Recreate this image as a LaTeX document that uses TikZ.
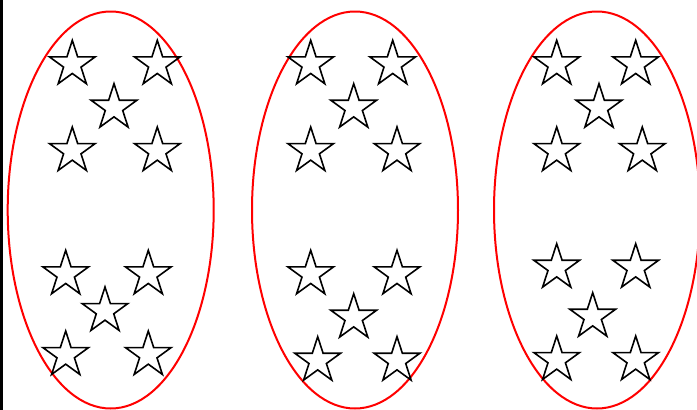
\documentclass[tikz,border=0pt]{standalone}
\usetikzlibrary{shapes.geometric}
\begin{document}
\begin{tikzpicture}[x=1pt,y=-1pt,
  starshape/.style={star,star points=5,star point ratio=2.618,minimum size=48pt,inner sep=0pt,draw=black,line width=1.6pt},
  group/.style={draw=red,line width=2pt}]
\useasboundingbox (0,0) rectangle (697,410);
\fill[black] (0,0) rectangle (3,410);
% ellipses
\draw[group] (110.7,210) ellipse [x radius=103,y radius=198.5];
\draw[group] (355,210) ellipse [x radius=103,y radius=198.5];
\draw[group] (597,210) ellipse [x radius=103,y radius=198.5];
% group 1
\node[starshape] (a1) at (72.3,64.3) {};
\node[starshape] (a2) at (157.3,64.3) {};
\node[starshape] (a3) at (114,107.7) {};
\node[starshape] (a4) at (72.3,151) {};
\node[starshape] (a5) at (157.3,151) {};
\node[starshape] (a6) at (65.7,274.3) {};
\node[starshape] (a7) at (148.3,274.3) {};
\node[starshape] (a8) at (105,311) {};
\node[starshape] (a9) at (65.7,355) {};
\node[starshape] (a10) at (148.3,355) {};
% group 2
\node[starshape] (b1) at (310.7,64.3) {};
\node[starshape] (b2) at (392.7,64.3) {};
\node[starshape] (b3) at (353.7,107.7) {};
\node[starshape] (b4) at (310.7,151) {};
\node[starshape] (b5) at (397,151) {};
\node[starshape] (b6) at (310.7,274.3) {};
\node[starshape] (b7) at (397,274.3) {};
\node[starshape] (b8) at (353.7,317.7) {};
\node[starshape] (b9) at (317.7,360.7) {};
\node[starshape] (b10) at (397,360.7) {};
% group 3
\node[starshape] (c1) at (556.7,64.3) {};
\node[starshape] (c2) at (635.7,64.3) {};
\node[starshape] (c3) at (599,107.7) {};
\node[starshape] (c4) at (556.7,151) {};
\node[starshape] (c5) at (642.3,151) {};
\node[starshape] (c6) at (556.7,267.7) {};
\node[starshape] (c7) at (635.7,267.7) {};
\node[starshape] (c8) at (592.7,316.7) {};
\node[starshape] (c9) at (556.7,360) {};
\node[starshape] (c10) at (635.7,360) {};
\end{tikzpicture}
\end{document}
